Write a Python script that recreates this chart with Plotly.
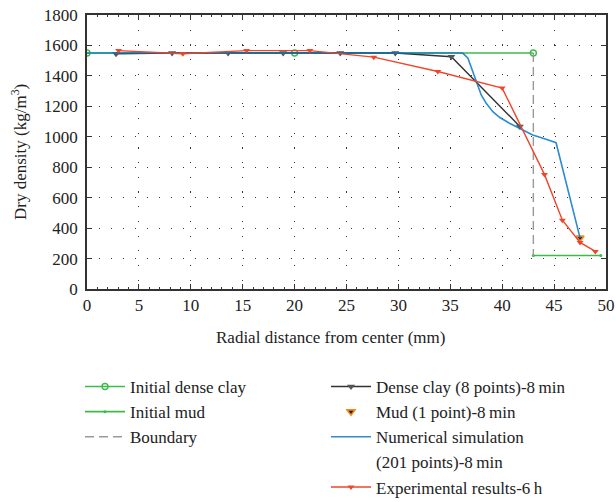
import plotly.graph_objects as go

# ---------------- data ----------------
clay_init_x = [0, 20.0, 43.0]
clay_init_y = [1550, 1550, 1550]

mud_init_x = [43.0, 49.5]
mud_init_y = [220, 220]

boundary_x = [43.0, 43.0]
boundary_y = [1550, 220]

dense_x = [2.8, 8.2, 13.6, 18.9, 24.4, 29.7, 35.1, 41.7]
dense_y = [1545, 1550, 1550, 1550, 1550, 1550, 1526, 1068]

mud_pt_x = [47.5]
mud_pt_y = [336]

sim_x = [0, 36.2, 36.7, 37.0, 37.3, 37.65, 37.98, 38.46, 39.1, 39.74, 40.7,
         41.66, 42.94, 44.23, 45.19, 47.5]
sim_y = [1550, 1550, 1516, 1461, 1395, 1329, 1275, 1220, 1165, 1128, 1089,
         1056, 1012, 984, 961, 336]

exp_x = [3.04, 9.23, 15.38, 21.47, 27.63, 33.8, 40.0, 44.07, 45.8, 47.5, 48.97]
exp_y = [1566, 1545, 1566, 1566, 1523, 1429, 1320, 753, 452, 306, 247]

x_ticks = [0, 5, 10, 15, 20, 25, 30, 35, 40, 45, 50]
y_ticks = [0, 200, 400, 600, 800, 1000, 1200, 1400, 1600, 1800]

FONT = "Liberation Serif, Times New Roman, DejaVu Serif, serif"
GREEN = "#3dbb4a"
BLUE = "#0a78c8"
RED = "#f0452a"
ORANGE = "#f58a1f"

fig = go.Figure()

fig.add_trace(go.Scatter(x=clay_init_x, y=clay_init_y, mode="lines+markers",
                         name="Initial dense clay", legend="legend",
                         line=dict(color=GREEN, width=1.6),
                         marker=dict(symbol="circle-open", size=6, color=GREEN, line=dict(width=1.4))))
fig.add_trace(go.Scatter(x=mud_init_x, y=mud_init_y, mode="lines+markers",
                         name="Initial mud", legend="legend",
                         line=dict(color=GREEN, width=1.6),
                         marker=dict(symbol="circle", size=3, color=GREEN)))
fig.add_trace(go.Scatter(x=boundary_x, y=boundary_y, mode="lines",
                         name="Boundary", legend="legend",
                         line=dict(color="#999999", width=1.4, dash="9px,5px")))

fig.add_trace(go.Scatter(x=dense_x, y=dense_y, mode="lines+markers",
                         name="Dense clay (8 points)-8\u2009min", legend="legend2",
                         line=dict(color="#333333", width=1.4),
                         marker=dict(symbol="triangle-down", size=7, color="#555555")))
fig.add_trace(go.Scatter(x=mud_pt_x, y=mud_pt_y, mode="markers",
                         name="Mud (1 point)-8\u2009min", legend="legend2",
                         marker=dict(symbol="triangle-down", size=7, color="#222222",
                                     line=dict(color=ORANGE, width=1.6))))
fig.add_trace(go.Scatter(x=sim_x, y=sim_y, mode="lines",
                         name="Numerical simulation", legend="legend2",
                         opacity=0.85,
                         line=dict(color=BLUE, width=1.6)))
fig.add_trace(go.Scatter(x=[None], y=[None], mode="lines",
                         name="(201 points)-8\u2009min", legend="legend2",
                         line=dict(color="rgba(0,0,0,0)", width=1)))
fig.add_trace(go.Scatter(x=exp_x, y=exp_y, mode="lines+markers",
                         name="Experimental results-6\u2009h", legend="legend2",
                         line=dict(color=RED, width=1.4),
                         marker=dict(symbol="triangle-down", size=6, color=RED)))

axis_common = dict(
    showline=True, linecolor="#333333", linewidth=1.5, mirror="ticks",
    ticks="inside", ticklen=5, tickwidth=1.3, tickcolor="#333333",
    showgrid=True, gridcolor="#333333", gridwidth=1.2,
    zeroline=False,
    tickfont=dict(family=FONT, size=17, color="#222222"),
)

fig.update_xaxes(range=[0, 50], tickvals=x_ticks, griddash="1.2px,13.5px",
                 minor=dict(dtick=1, ticks="inside", ticklen=2.5, tickcolor="#333333", showgrid=False),
                 **axis_common)
fig.update_yaxes(range=[0, 1800], tickvals=y_ticks, griddash="1.2px,10.8px",
                 ticklabelstandoff=4, **axis_common)

legend_common = dict(
    font=dict(family=FONT, size=17, color="#222222"),
    bgcolor="rgba(0,0,0,0)", xanchor="left", yanchor="top",
    orientation="v", itemclick=False, itemdoubleclick=False,
    itemwidth=40,
)

L, R, T, B = 87, 10, 15, 213
PW, PH = 616 - L - R, 502 - T - B

fig.update_layout(
    width=616, height=502,
    margin=dict(l=L, r=R, t=T, b=B, autoexpand=False),
    paper_bgcolor="white", plot_bgcolor="white",
    showlegend=True,
    legend=dict(x=(80 - L) / PW, y=(T + PH - 369) / PH, **legend_common),
    legend2=dict(x=(326 - L) / PW, y=(T + PH - 369) / PH, **legend_common),
    annotations=[
        dict(text="Radial distance from center (mm)", xref="paper", yref="paper",
             x=(330 - L) / PW, y=(T + PH - 337) / PH, xanchor="center", yanchor="middle",
             showarrow=False, font=dict(family=FONT, size=17, color="#222222")),
        dict(text="Dry density (kg/m<sup>3</sup>)", xref="paper", yref="paper",
             x=(19 - L) / PW, y=0.5, xanchor="center", yanchor="middle", showarrow=False,
             textangle=-90, font=dict(family=FONT, size=17, color="#222222")),
    ],
)

fig.write_html("out.html")
